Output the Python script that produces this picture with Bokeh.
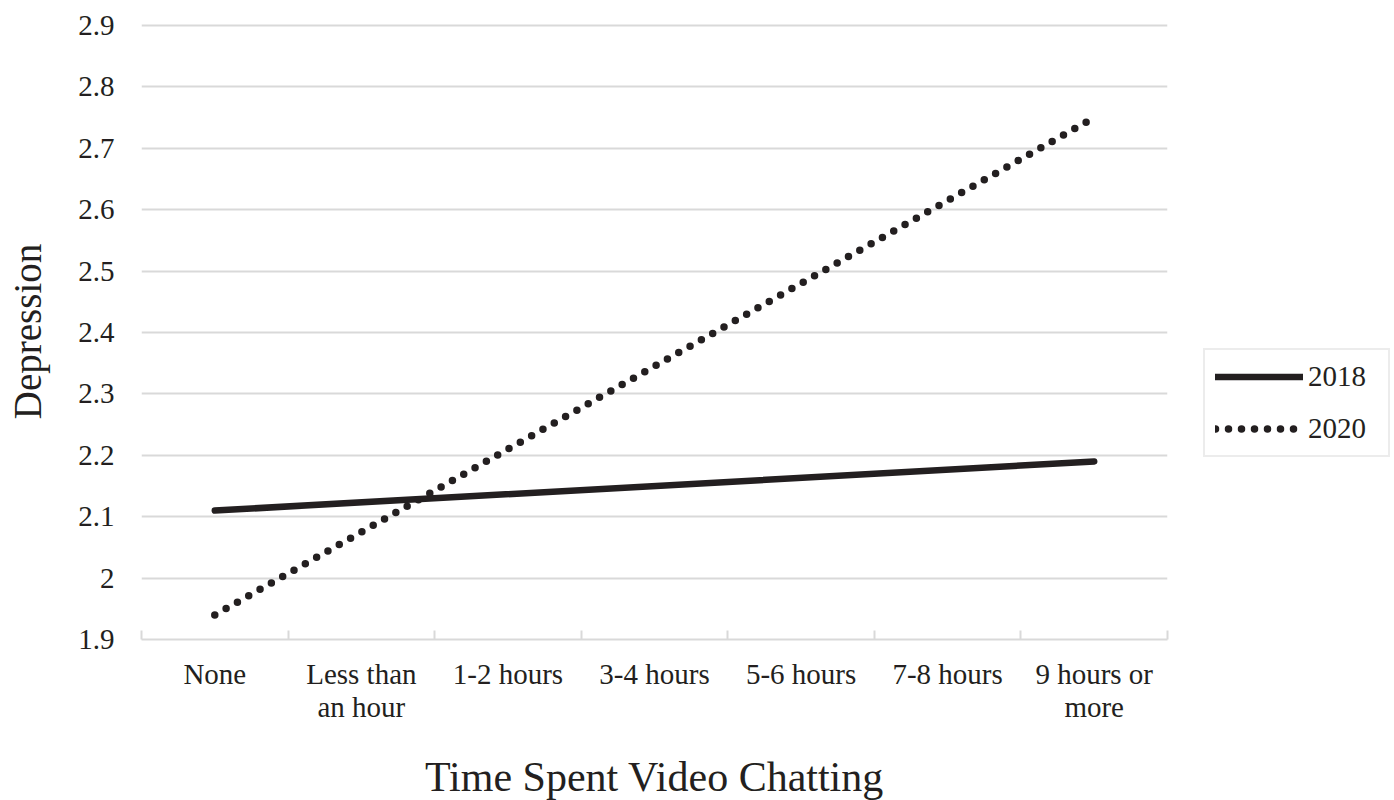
from bokeh.plotting import figure
from bokeh.models import Range1d, FixedTicker, Legend, LegendItem, ColumnDataSource
from bokeh.embed import file_html
from bokeh.resources import INLINE

categories = ["None", "Less than\nan hour", "1-2 hours", "3-4 hours", "5-6 hours", "7-8 hours", "9 hours or\nmore"]
endpoints = [categories[0], categories[-1]]
depr_2018 = [2.11, 2.19]
depr_2020 = [1.94, 2.75]
y_ticks = [1.9, 2.0, 2.1, 2.2, 2.3, 2.4, 2.5, 2.6, 2.7, 2.8, 2.9]
y_labels = ["1.9", "2", "2.1", "2.2", "2.3", "2.4", "2.5", "2.6", "2.7", "2.8", "2.9"]

FONT = "Liberation Serif"
INK = "#231f20"
GRID = "#d9d9d9"

centers = [i + 0.5 for i in range(len(categories))]
xs = [categories.index(c) + 0.5 for c in endpoints]

# y range extends a hair above 2.9 so that the top gridline is fully drawn
p = figure(frame_width=1026, frame_height=616, output_backend="svg", toolbar_location=None,
           x_range=Range1d(0, len(categories)), y_range=Range1d(1.9, 2.9033),
           min_border_left=141, min_border_right=0, min_border_top=23, min_border_bottom=161)
p.outline_line_color = None
p.background_fill_color = "white"

# x axis
xa = p.xaxis[0]
xa.ticker = FixedTicker(ticks=centers, minor_ticks=list(range(len(categories) + 1)))
xa.major_label_overrides = {c: lab for c, lab in zip(centers, categories)}
xa.major_tick_in = 0
xa.major_tick_out = 0
xa.minor_tick_in = 9
xa.minor_tick_out = 0
xa.minor_tick_line_color = GRID
xa.minor_tick_line_width = 2
xa.axis_line_color = GRID
xa.axis_line_width = 2
xa.major_label_text_font = FONT
xa.major_label_text_font_size = "29px"
xa.major_label_text_color = INK
xa.major_label_text_line_height = 1.05
xa.major_label_standoff = 18
xa.axis_label = "Time Spent Video Chatting"
xa.axis_label_text_font = FONT
xa.axis_label_text_font_size = "42px"
xa.axis_label_text_font_style = "normal"
xa.axis_label_text_color = INK
xa.axis_label_standoff = 28

# y axis
ya = p.yaxis[0]
ya.ticker = FixedTicker(ticks=y_ticks)
ya.major_label_overrides = {t: l for t, l in zip(y_ticks, y_labels)}
ya.axis_line_color = None
ya.major_tick_line_color = None
ya.minor_tick_line_color = None
ya.major_label_text_font = FONT
ya.major_label_text_font_size = "29px"
ya.major_label_text_color = INK
ya.major_label_standoff = 21
ya.axis_label = "Depression"
ya.axis_label_text_font = FONT
ya.axis_label_text_font_size = "39px"
ya.axis_label_text_font_style = "normal"
ya.axis_label_text_color = INK
ya.axis_label_standoff = 26

p.xgrid.grid_line_color = None
p.ygrid.ticker = FixedTicker(ticks=y_ticks[1:])
p.ygrid.grid_line_color = GRID
p.ygrid.grid_line_width = 2

src18 = ColumnDataSource(dict(x=xs, y=depr_2018))
src20 = ColumnDataSource(dict(x=xs, y=depr_2020))
r18 = p.line("x", "y", source=src18, line_color=INK, line_width=6.5, line_cap="round")
r20 = p.line("x", "y", source=src20, line_color=INK, line_width=7.5, line_cap="round", line_dash="0 13")

legend = Legend(items=[LegendItem(label="2018", renderers=[r18]), LegendItem(label="2020", renderers=[r20])],
                location=(36, 182))
legend.label_text_font = FONT
legend.label_text_font_size = "29px"
legend.label_text_color = INK
legend.glyph_width = 88
legend.glyph_height = 33
legend.label_height = 33
legend.label_width = 70
legend.spacing = 19
legend.padding = 10
legend.label_standoff = 5
legend.border_line_color = GRID
legend.border_line_width = 2
legend.margin = 0
p.add_layout(legend, "right")

html = file_html(p, INLINE)
open("out.html", "w").write(html)
